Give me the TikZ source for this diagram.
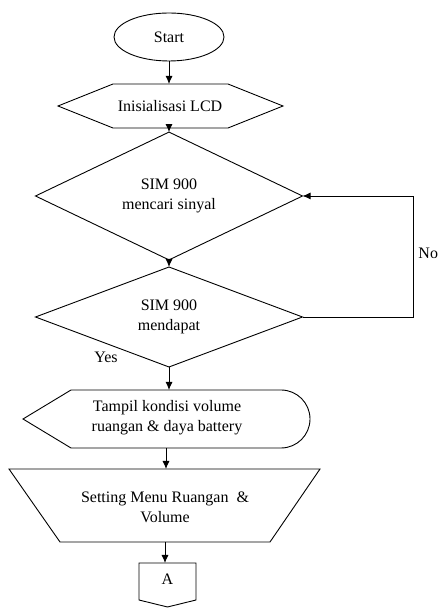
\documentclass[tikz,border=0pt]{standalone}
\usepackage{fontspec}
\setmainfont{Liberation Serif}
\usetikzlibrary{shapes.geometric,arrows.meta}

\begin{document}
\begin{tikzpicture}[x=1pt,y=1pt,line width=0.9pt,>={Latex[length=8pt,width=7pt]},
	every node/.style={font=\fontsize{16}{20}\selectfont},
	term/.style={draw,ellipse,minimum width=110pt,minimum height=48pt,inner sep=0pt,outer sep=0pt},
	decide/.style={draw,diamond,minimum width=267pt,minimum height=100pt,inner sep=0pt,outer sep=0pt,align=center},
	txt/.style={align=center,inner sep=0pt}]
\useasboundingbox (0,0) rectangle (438,608);

\node[term] (start) at (169,571) {Start};

% hexagon
\draw (58,502) -- (113,524) -- (228,524) -- (283,502) -- (228,480) -- (113,480) -- cycle;
\node[txt] (init) at (170,502) {Inisialisasi LCD};
\coordinate (initn) at (169,524);
\coordinate (inits) at (169,480);

\node[decide] (d1) at (169,412) {SIM 900\\mencari sinyal};
\node[decide] (d2) at (169,291) {SIM 900\\mendapat};

% display
\draw (23,189) -- (71,218) -- (281,218) arc[start angle=90,end angle=-90,radius=29] -- (71,160) -- cycle;
\node[txt] (disp) at (167,190) {Tampil kondisi volume\\ruangan \& daya battery};
\coordinate (dispn) at (169,218);
\coordinate (disps) at (166,160);

% manual input
\draw (9,139) -- (320,139) -- (270,66) -- (60,66) -- cycle;
\node[txt] (menu) at (165,101) {Setting Menu Ruangan \ \&\\Volume};
\coordinate (menun) at (166,139);
\coordinate (menus) at (165,66);

% off-page
\draw (139,45) -- (196,45) -- (196,8) -- (167.5,1) -- (139,8) -- cycle;
\node[txt] (A) at (167.5,29) {A};
\coordinate (An) at (165,45);

\node (yes) at (106,251) {Yes};
\node[anchor=west,inner sep=0pt] (no) at (418,355) {No};

\path [->] (start) edge (initn) (inits) edge (d1.north) (d1.south) edge (d2.north)
	(d2.south) edge (dispn) (disps) edge (menun) (menus) edge (An);
\draw [->] (d2.east) -- ++(111,0) |- (d1.east);
\end{tikzpicture}
\end{document}
